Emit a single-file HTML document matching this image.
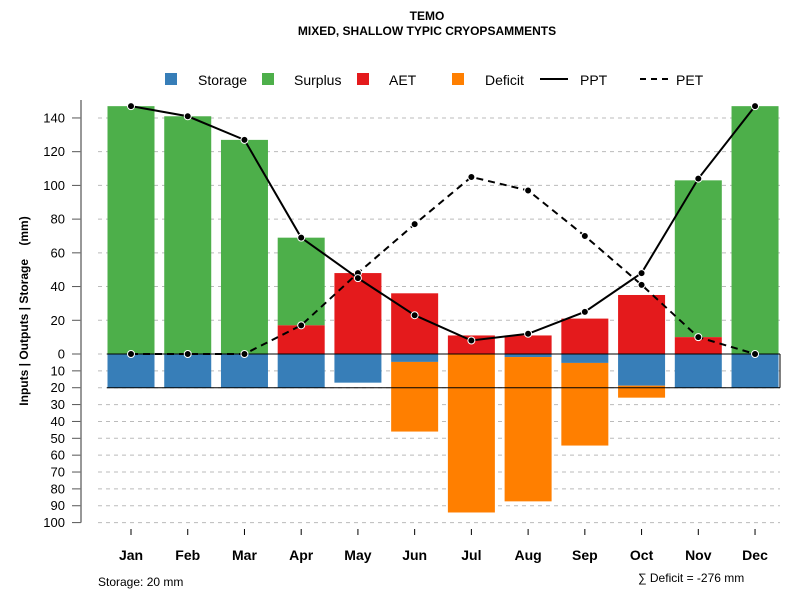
<!DOCTYPE html>
<html><head><meta charset="utf-8"><style>
body{margin:0;background:#fff;font-family:"Liberation Sans",sans-serif}
svg text{font-family:"Liberation Sans",sans-serif}
</style></head><body>
<svg id="c" width="800" height="600" xmlns="http://www.w3.org/2000/svg">
<text x="427" y="20" text-anchor="middle" font-size="12" font-weight="bold">TEMO</text>
<text x="427" y="35" text-anchor="middle" font-size="12" font-weight="bold">MIXED, SHALLOW TYPIC CRYOPSAMMENTS</text>
<g id="grid"></g><g id="bars"></g><g id="lines"></g><g id="axes"></g>
<g font-size="14">
<rect x="165" y="73" width="12" height="12" fill="#377eb8"/><text x="198" y="85">Storage</text>
<rect x="262" y="73" width="12" height="12" fill="#4daf4a"/><text x="294" y="85">Surplus</text>
<rect x="357" y="73" width="12" height="12" fill="#e41a1c"/><text x="389" y="85">AET</text>
<rect x="452" y="73" width="12" height="12" fill="#ff7f00"/><text x="485" y="85">Deficit</text>
<line x1="540" y1="79" x2="568" y2="79" stroke="#000" stroke-width="2"/><text x="580" y="85">PPT</text>
<line x1="640" y1="79" x2="668" y2="79" stroke="#000" stroke-width="2" stroke-dasharray="6,5"/><text x="676" y="85">PET</text>
</g>
<text transform="translate(28,311) rotate(-90)" text-anchor="middle" font-size="12" font-weight="bold" style="white-space:pre">Inputs | Outputs | Storage    (mm)</text>
<text x="98" y="586" font-size="12">Storage: 20 mm</text>
<text x="638" y="582" font-size="12">∑ Deficit = -276 mm</text>
</svg>
<script>
const months=["Jan","Feb","Mar","Apr","May","Jun","Jul","Aug","Sep","Oct","Nov","Dec"];
const ppt=[147,141,127,69,45,23,8,12,25,48,104,147];
const pet=[0,0,0,17,48,77,105,97,70,41,10,0];
const aet=[0,0,0,17,48,36,11,11,21,35,10,0];
const surplus=[147,141,127,52,0,0,0,0,0,0,93,147];
const storage=[20,20,20,20,17,4.7,0,1.8,5.3,18.8,20,20];
const deficit=[0,0,0,0,0,41.3,94,85.6,49,7.1,0,0];
const upTicks=[0,20,40,60,80,100,120,140];
const downTicks=[10,20,30,40,50,60,70,80,90,100];
const capacity=20;
const NS="http://www.w3.org/2000/svg";
const y=v=>354-v*1.686;
const x=i=>131+i*56.73;
const bw=47;
function mk(t,a,p){const e=document.createElementNS(NS,t);for(const k in a)e.setAttribute(k,a[k]);p.appendChild(e);return e;}
const G=document.getElementById('grid'),B=document.getElementById('bars'),L=document.getElementById('lines'),A=document.getElementById('axes');
function tick(v,lab){const g=mk('line',{x1:98,x2:780,y1:y(v),y2:y(v),stroke:'#bbb','stroke-dasharray':'4,4'},G);


const t=mk('text',{x:65,y:y(v)+4.5,'text-anchor':'end','font-size':13},A);t.textContent=lab;


mk('line',{x1:72,x2:81,y1:y(v),y2:y(v),stroke:'#555','stroke-width':1},A);}
upTicks.forEach(v=>tick(v,v));
downTicks.forEach(v=>tick(-v,v));
mk('line',{x1:81,x2:81,y1:100,y2:y(-100),stroke:'#777','stroke-width':1.5},A);
months.forEach((m,i)=>{const cx=x(i),l=cx-bw/2;
if(surplus[i]>0){const r=mk('rect',{x:l,y:y(aet[i]+surplus[i]),width:bw,height:surplus[i]*1.686,fill:'#4daf4a'},B);

}
if(aet[i]>0){const r=mk('rect',{x:l,y:y(aet[i]),width:bw,height:aet[i]*1.686,fill:'#e41a1c'},B);

}
if(storage[i]>0){const r=mk('rect',{x:l,y:y(0),width:bw,height:storage[i]*1.686,fill:'#377eb8'},B);

}
if(deficit[i]>0){const r=mk('rect',{x:l,y:y(-storage[i]),width:bw,height:deficit[i]*1.686,fill:'#ff7f00'},B);

}
mk('line',{x1:cx,x2:cx,y1:529,y2:535,stroke:'#000'},A);
const t=mk('text',{x:cx,y:560,'text-anchor':'middle','font-size':14,'font-weight':'bold'},A);t.textContent=m;

});
mk('line',{x1:107,x2:780,y1:y(0),y2:y(0),stroke:'#000'},B);
mk('line',{x1:107,x2:780,y1:y(-capacity),y2:y(-capacity),stroke:'#000'},B);
mk('line',{x1:780,x2:780,y1:y(0),y2:y(-capacity),stroke:'#000'},B);
function series(arr,name,dash){const p=mk('polyline',{points:arr.map((v,i)=>x(i)+','+y(v)).join(' '),fill:'none',stroke:'#000','stroke-width':2},L);
if(dash)p.setAttribute('stroke-dasharray','7,5');


arr.forEach((v,i)=>{const c=mk('circle',{cx:x(i),cy:y(v),r:3.5,fill:'#000',stroke:'#fff','stroke-width':1},L);

});}
series(pet,'pet',true);series(ppt,'ppt',false);
</script>
</body></html>
